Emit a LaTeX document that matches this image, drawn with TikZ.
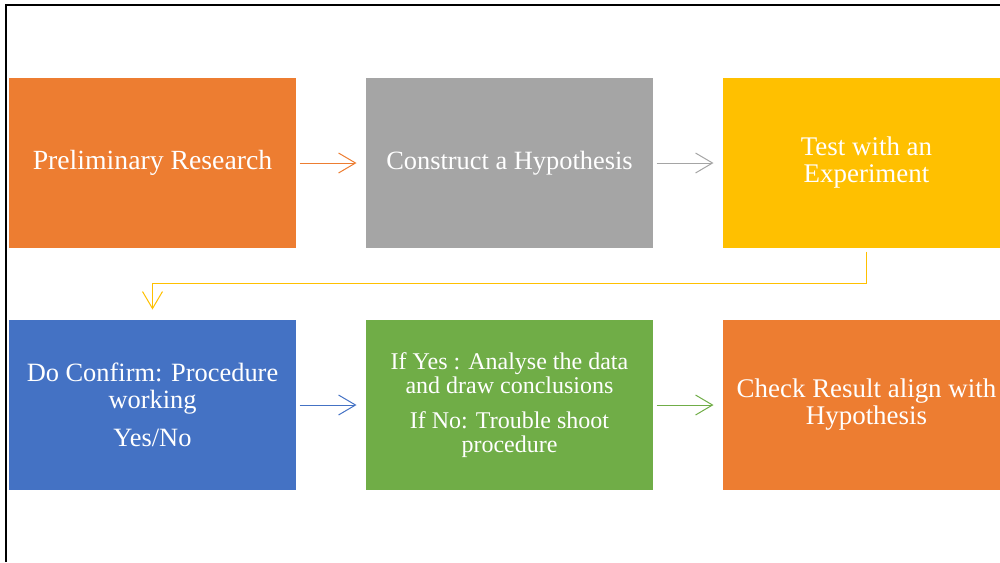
\documentclass[tikz,border=0pt]{standalone}
\usepackage{fontspec}
\setmainfont{Liberation Serif}
\usetikzlibrary{arrows.meta, positioning}
\definecolor{corange}{HTML}{ED7D31}
\definecolor{cgrey}{HTML}{A5A5A5}
\definecolor{cyellow}{HTML}{FFC000}
\definecolor{cblue}{HTML}{4472C4}
\definecolor{cgreen}{HTML}{70AD47}
\tikzset{
  every picture/.style={line width=0.75pt},
  box/.style={fill=#1, text=white, align=center, inner sep=0pt, minimum width=215.25pt, minimum height=127.5pt,
    font=\fontsize{20.2}{20.25}\selectfont},
  box/.default=corange,
  arrow/.style={-{Straight Barb[length=12.75pt, width=15pt]}, draw=#1, shorten <=2.25pt, shorten >=6.75pt},
  frame/.style={line width=1.5pt, draw=black},
}

\begin{document}
\begin{tikzpicture}[x=0.75pt, y=-0.75pt]
  \useasboundingbox (0,0) rectangle (1000,562);
  % slide frame
  \draw[frame] (6,562) -- (6,5) -- (1000,5);
  % top row
  \node[box=corange, font=\fontsize{20.8}{20.25}\selectfont] (prelim) at (152.5,163) {Preliminary Research};
  \node[box=cgrey, right=51.75pt of prelim, font=\fontsize{19.8}{20.25}\selectfont] (hypo) {Construct a Hypothesis};
  \node[box=cyellow, right=51.75pt of hypo] (test) {Test with an\\Experiment};
  % bottom row
  \node[box=cblue, below=53.25pt of prelim, font=\fontsize{19.8}{20.25}\selectfont] (confirm)
    {Do Confirm: Procedure\\working\\[8pt]Yes/No};
  \node[box=cgreen, right=51.75pt of confirm, font=\fontsize{18}{18}\selectfont] (analyse)
    {If Yes : Analyse the data\\and draw conclusions\\[8pt]If No: Trouble shoot\\procedure};
  \node[box=corange, right=51.75pt of analyse] (check) {Check Result align with\\Hypothesis};
  % connectors
  \draw[arrow=corange] (prelim) -- (hypo);
  \draw[arrow=cgrey] (hypo) -- (test);
  \coordinate (turn) at (0,283);
  \draw[arrow=cyellow, shorten >=7.5pt] (test.south) -- (test.south |- turn) -| (confirm.north);
  \draw[arrow=cblue] (confirm) -- (analyse);
  \draw[arrow=cgreen] (analyse) -- (check);
\end{tikzpicture}
\end{document}
